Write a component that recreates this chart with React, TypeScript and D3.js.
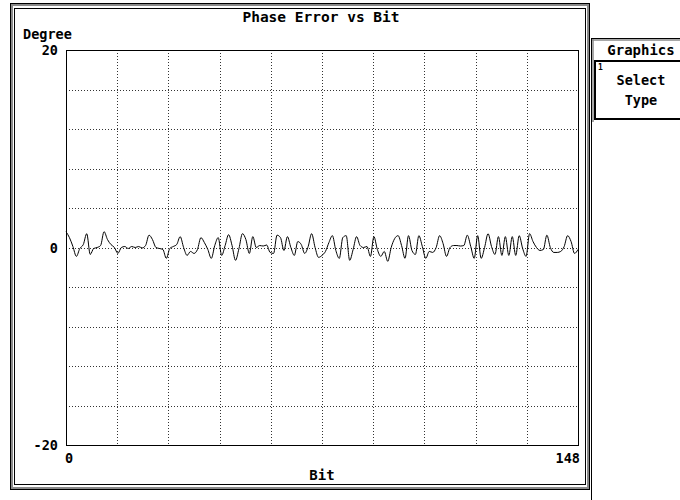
import React from "react";
import * as d3 from "d3";

// Phase error (degrees) per bit, bits 0..148
const phaseError: number[] = [
  1.6, 1.0, 0.1, -0.9, -0.1, 0.3, 1.4, -0.7, -0.1, 0.0,
  0.2, 1.6, 0.8, 0.3, 0.0, -0.6, 0.0, 0.1, -0.1, 0.1,
  0.0, 0.1, -0.05, 0.2, 1.25, 0.8, 0.0, -0.1, -0.2, -1.1,
  -0.1, 0.1, 0.3, 1.1, 0.0, -0.8, -0.4, -0.6, -0.2, 1.0,
  0.5, -0.2, -1.1, 0.2, 1.0, -0.8, 0.2, 1.3, 0.2, -1.3,
  -0.1, 1.4, 0.8, -0.6, 1.1, 0.0, 0.2, 0.15, 0.25, -0.5,
  -0.6, 1.25, 1.0, -0.3, 1.1, 0.0, -0.8, 0.6, 0.3, -0.6,
  0.1, 1.4, 0.0, -1.0, -0.8, -0.4, 0.5, 1.2, -0.3, -1.1,
  1.0, 1.2, -1.3, -0.2, 1.1, 0.2, 0.0, 0.1, -0.9, 1.1,
  -0.2, -0.9, -0.4, -1.4, 0.0, 0.9, 1.2, 0.2, -1.1, 1.2,
  -0.3, -0.7, 1.2, 0.1, -1.1, -0.4, -0.5, 0.0, 1.2, 0.4,
  -0.9, 0.0, 0.2, 0.2, 0.15, 0.2, 1.25, 0.1, -1.1, 1.2,
  -1.1, 0.0, 1.4, 0.1, -0.7, 1.1, -0.8, 1.1, -0.8, 1.1,
  -0.8, 1.2, -0.1, -0.9, 1.4, 0.6, 0.0, -0.3, -0.2, 1.25,
  0.0, -0.5, -0.5, -0.4, 0.1, 1.2, 0.6, -0.6, -0.2,
];

const xDomain: [number, number] = [0, 148];
const yDomain: [number, number] = [-20, 20];
const xTickLabels = ["0", "148"];
const yTickLabels = ["20", "0", "-20"];
const yTickValues = [20, 0, -20];
const title = "Phase Error vs Bit";
const xTitle = "Bit";
const yTitle = "Degree";
const panelTitle = "Graphics";
const panelItem = ["Select", "Type"];

const FONT = "'DejaVu Sans Mono', monospace";

export default function App() {
  const left = 66, right = 578, top = 50, bottom = 445;
  const x = d3.scaleLinear().domain(xDomain).range([left, right]);
  const y = d3.scaleLinear().domain(yDomain).range([bottom, top]);

  const xGrid = d3.range(0, 11).map((i) => xDomain[0] + (i * (xDomain[1] - xDomain[0])) / 10);
  const yGrid = d3.range(0, 11).map((i) => yDomain[0] + (i * (yDomain[1] - yDomain[0])) / 10);

  const line = d3
    .line<number>()
    .x((_, i) => x(i))
    .y((d) => y(d))
    .curve(d3.curveMonotoneX);

  const path = line(phaseError) || "";

  return (
    <svg
      width={680}
      height={500}
      style={{ position: "absolute", left: 0, top: 0, background: "#fff" }}
      fontFamily={FONT}
    >
      <rect x={0} y={0} width={680} height={500} fill="#fff" />
      {/* main window frame */}
      <rect x={10.5} y={3.5} width={579} height={486} fill="none" stroke="#000" strokeWidth={1} />
      <rect x={12} y={5} width={576} height={483} fill="none" stroke="#8a8a8a" strokeWidth={2} />
      <rect x={14.5} y={8.5} width={571} height={476} fill="none" stroke="#000" strokeWidth={1} />

      {/* gridlines */}
      {xGrid.slice(1, -1).map((v) => (
        <line
          key={"gx" + v}
          x1={Math.round(x(v)) + 0.5}
          x2={Math.round(x(v)) + 0.5}
          y1={top}
          y2={bottom}
          stroke="#333"
          strokeWidth={1}
          strokeDasharray="1 2"
        />
      ))}
      {yGrid.slice(1, -1).map((v) => (
        <line
          key={"gy" + v}
          x1={left}
          x2={right}
          y1={Math.round(y(v)) + 0.5}
          y2={Math.round(y(v)) + 0.5}
          stroke="#333"
          strokeWidth={1}
          strokeDasharray="1 2"
        />
      ))}

      {/* data */}
      <path d={path} fill="none" stroke="#000" strokeWidth={1} />

      {/* plot frame */}
      <rect x={left + 0.5} y={top + 0.5} width={right - left} height={bottom - top} fill="none" stroke="#000" strokeWidth={1} />

      {/* titles */}
      <text x={321} y={22} textAnchor="middle" fontSize={14.5} fontWeight="bold">
        {title}
      </text>
      <text x={23} y={39} fontSize={13.5} fontWeight="bold">
        {yTitle}
      </text>
      {yTickValues.map((v, i) => (
        <text key={"yl" + v} x={58} y={y(v) + 5} textAnchor="end" fontSize={13.5} fontWeight="bold">
          {yTickLabels[i]}
        </text>
      ))}
      <text x={x(xDomain[0]) - 1} y={463} fontSize={13.5} fontWeight="bold">
        {xTickLabels[0]}
      </text>
      <text x={x(xDomain[1]) + 2} y={463} textAnchor="end" fontSize={13.5} fontWeight="bold">
        {xTickLabels[1]}
      </text>
      <text x={322} y={480} textAnchor="middle" fontSize={14} fontWeight="bold">
        {xTitle}
      </text>

      {/* right panel */}
      <line x1={591.5} x2={591.5} y1={38} y2={500} stroke="#000" strokeWidth={1} />
      <line x1={593} x2={593} y1={38} y2={122} stroke="#8a8a8a" strokeWidth={1.5} />
      <line x1={591} x2={680} y1={38.5} y2={38.5} stroke="#000" strokeWidth={1} />
      <line x1={592} x2={680} y1={40} y2={40} stroke="#8a8a8a" strokeWidth={1.5} />
      <text x={641} y={55} textAnchor="middle" fontSize={14} fontWeight="bold">
        {panelTitle}
      </text>
      <rect x={595} y={61} width={90} height={58} fill="none" stroke="#000" strokeWidth={2} />
      <text x={598} y={70} fontSize={8} fontWeight="bold">
        1
      </text>
      <text x={641} y={85} textAnchor="middle" fontSize={13.5} fontWeight="bold">
        {panelItem[0]}
      </text>
      <text x={641} y={105} textAnchor="middle" fontSize={13.5} fontWeight="bold">
        {panelItem[1]}
      </text>
    </svg>
  );
}
